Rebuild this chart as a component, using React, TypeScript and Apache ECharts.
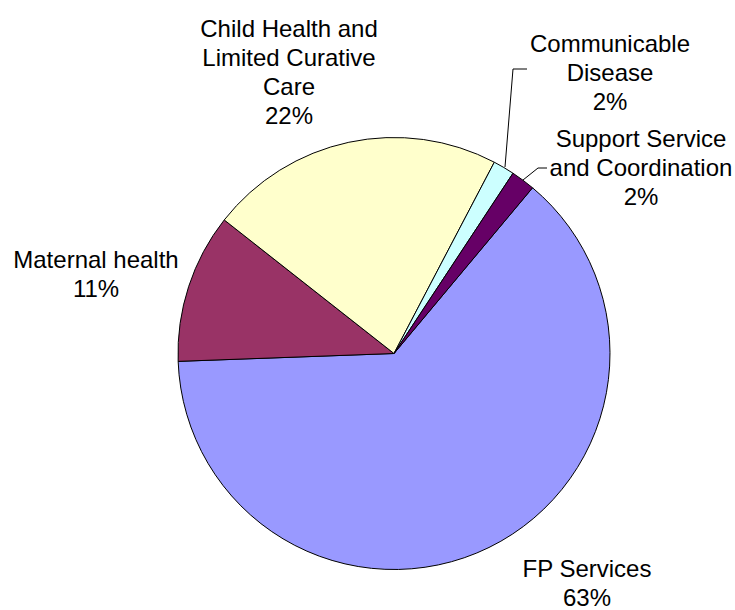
import React, { useEffect, useRef } from "react";
import * as echarts from "echarts";

const categories = [
  "FP Services",
  "Maternal health",
  "Child Health and\nLimited Curative\nCare",
  "Communicable\nDisease",
  "Support Service\nand Coordination",
];
const values = [63.4, 11.2, 22.1, 1.6, 1.8];
const colors = ["#9999FF", "#993366", "#FFFFCC", "#CCFFFF", "#660066"];

// label centre positions and leader lines (layout only)
const labelPos: { x: number; y: number; line?: number[][] }[] = [
  { x: 587, y: 583 },
  { x: 96, y: 274 },
  { x: 289, y: 72 },
  { x: 610, y: 72, line: [[505, 167], [513, 69], [527, 69]] },
  { x: 641, y: 167, line: [[523, 180], [538, 168], [547, 168]] },
];

export default function App() {
  const ref = useRef<HTMLDivElement>(null);
  useEffect(() => {
    if (!ref.current) return;
    const chart = echarts.init(ref.current, null, { renderer: "svg" });
    chart.setOption({
      animation: false,
      backgroundColor: "#ffffff",
      series: [
        {
          type: "pie",
          center: [394, 353.5],
          radius: 216,
          startAngle: 50.1,
          clockwise: true,
          avoidLabelOverlap: false,
          percentPrecision: 0,
          itemStyle: { borderColor: "#000000", borderWidth: 1 },
          label: {
            show: true,
            formatter: "{b}\n{d}%",
            fontFamily: "Liberation Sans, Arial, sans-serif",
            fontSize: 24,
            lineHeight: 29,
            color: "#000000",
            align: "center",
          },
          labelLine: {
            show: true,
            lineStyle: { color: "#000000", width: 1 },
          },
          labelLayout: (params: any) => {
            const p = labelPos[params.dataIndex];
            const res: any = {
              x: p.x,
              y: p.y,
              align: "center",
              verticalAlign: "middle",
            };
            if (p.line) res.labelLinePoints = p.line;
            return res;
          },
          emphasis: { disabled: true },
          data: categories.map((name, i) => ({
            name,
            value: values[i],
            itemStyle: { color: colors[i] },
            labelLine: { show: !!labelPos[i].line },
          })),
        },
      ],
    });
    return () => chart.dispose();
  }, []);
  return (
    <div
      ref={ref}
      style={{ position: "fixed", left: 0, top: 0, width: 735, height: 610 }}
    />
  );
}
